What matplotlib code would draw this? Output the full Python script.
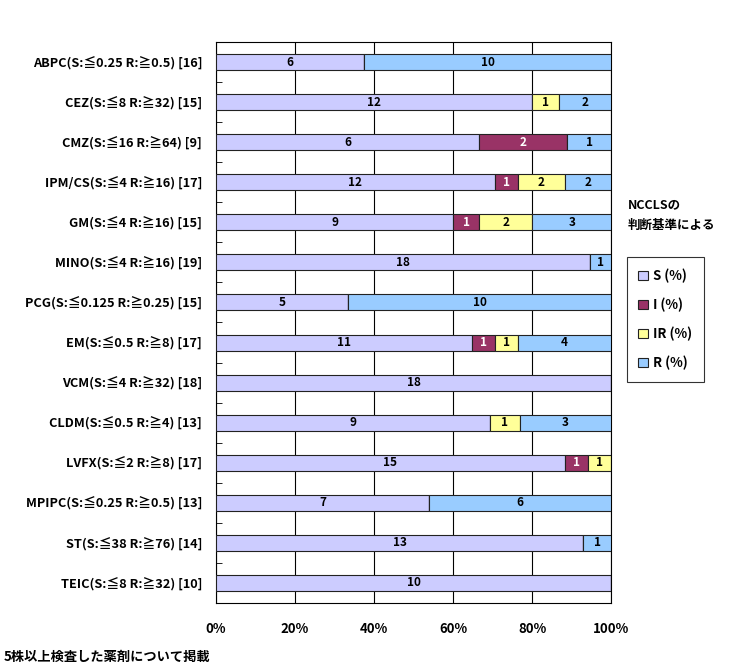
import matplotlib
matplotlib.use('Agg')
import matplotlib.pyplot as plt
import numpy as np

plt.rcParams['font.family'] = ['Noto Sans CJK JP', 'DejaVu Sans']

drugs = ['ABPC(S:≦0.25 R:≧0.5) [16]', 'CEZ(S:≦8 R:≧32) [15]', 'CMZ(S:≦16 R:≧64) [9]',
         'IPM/CS(S:≦4 R:≧16) [17]', 'GM(S:≦4 R:≧16) [15]', 'MINO(S:≦4 R:≧16) [19]',
         'PCG(S:≦0.125 R:≧0.25) [15]', 'EM(S:≦0.5 R:≧8) [17]', 'VCM(S:≦4 R:≧32) [18]',
         'CLDM(S:≦0.5 R:≧4) [13]', 'LVFX(S:≦2 R:≧8) [17]', 'MPIPC(S:≦0.25 R:≧0.5) [13]',
         'ST(S:≦38 R:≧76) [14]', 'TEIC(S:≦8 R:≧32) [10]']
s_cnt = [6, 12, 6, 12, 9, 18, 5, 11, 18, 9, 15, 7, 13, 10]
i_cnt = [0, 0, 2, 1, 1, 0, 0, 1, 0, 0, 1, 0, 0, 0]
ir_cnt = [0, 1, 0, 2, 2, 0, 0, 1, 0, 1, 1, 0, 0, 0]
r_cnt = [10, 2, 1, 2, 3, 1, 10, 4, 0, 3, 0, 6, 1, 0]

series = [('S (%)', s_cnt, '#CCCCFF', 'black'),
          ('I (%)', i_cnt, '#993366', 'white'),
          ('IR (%)', ir_cnt, '#FFFF99', 'black'),
          ('R (%)', r_cnt, '#99CCFF', 'black')]

totals = np.array(s_cnt) + np.array(i_cnt) + np.array(ir_cnt) + np.array(r_cnt)
y = np.arange(len(drugs))

fig = plt.figure(figsize=(7.38, 6.72), dpi=100)
ax = fig.add_axes([0.2927, 0.1027, 0.5355, 0.8348])

left = np.zeros(len(drugs))
for name, cnt, color, tcol in series:
    cnt = np.array(cnt)
    w = cnt / totals * 100
    ax.barh(y, w, left=left, height=0.4, color=color, edgecolor='#222222',
            linewidth=0.8, label=name, zorder=3)
    for yi, (l, wi, c) in enumerate(zip(left, w, cnt)):
        if c > 0:
            ax.text(l + wi / 2, yi, str(c), ha='center', va='center',
                    fontsize=8.5, fontweight='bold', color=tcol, zorder=4)
    left = left + w

ax.set_xlim(0, 100)
ax.set_ylim(len(drugs) - 0.5, -0.5)
ax.set_yticks(y)
ax.set_yticklabels(drugs, fontsize=9.2, fontweight='bold')
ax.set_yticks(np.arange(1, len(drugs)) - 0.5, minor=True)
ax.tick_params(axis='y', which='major', length=0, pad=10)
ax.tick_params(axis='y', which='minor', length=4, direction='in')
ax.set_xticks(np.arange(0, 101, 20))
ax.set_xticklabels(['%d%%' % v for v in range(0, 101, 20)], fontsize=9.5, fontweight='bold')
ax.tick_params(axis='x', length=0, pad=14)
ax.grid(axis='x', color='black', linewidth=0.8, zorder=0)
for sp in ax.spines.values():
    sp.set_linewidth(0.8)

fig.text(0.851, 0.68, 'NCCLSの\n判断基準による', fontsize=9, fontweight='bold',
         va='center', ha='left', linespacing=1.8)
leg = fig.legend(loc='upper left', bbox_to_anchor=(0.849, 0.618), frameon=True,
                 fancybox=False, edgecolor='black', fontsize=9.5, handlelength=0.7,
                 handleheight=0.7, labelspacing=1.1, borderpad=0.9, handletextpad=0.4,
                 borderaxespad=0.0)
leg.get_frame().set_linewidth(0.8)
for t in leg.get_texts():
    t.set_fontweight('bold')

fig.text(0.005, 0.022, '5株以上検査した薬剤について掲載', fontsize=9.5, fontweight='bold',
         ha='left', va='center')

fig.savefig('out.png', dpi=100)
